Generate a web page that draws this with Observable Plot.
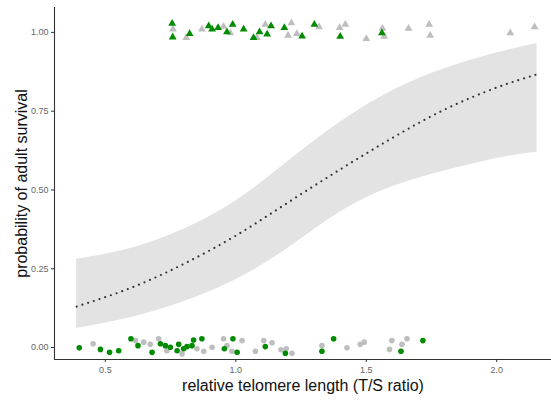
<!DOCTYPE html>
<html>
<head>
<meta charset="utf-8">
<script src="https://cdn.jsdelivr.net/npm/d3@7"></script>
<script src="https://cdn.jsdelivr.net/npm/@observablehq/plot@0.6"></script>
<style>
  html, body { margin: 0; padding: 0; background: #fff; }
  #chart { width: 551px; height: 400px; }
</style>
</head>
<body>
<div id="chart"></div>
<script>
// Survived (y≈1) — green group
const survivedGreen = [
  [0.756,1.028],[0.758,0.985],[0.823,0.996],[0.896,1.020],[0.909,1.010],[0.932,1.015],
  [0.966,1.001],[0.988,1.025],[1.030,1.010],[1.068,0.983],[1.091,1.001],[1.135,1.020],
  [1.120,0.994],[1.186,1.015],[1.254,0.988],[1.301,1.025],[1.400,0.987],[1.560,0.998]
];
// Survived — grey group
const survivedGrey = [
  [0.759,1.010],[0.810,0.983],[0.870,1.010],[0.953,1.019],[0.979,0.998],[1.081,0.983],
  [1.113,1.025],[1.213,1.030],[1.200,0.990],[1.234,0.996],[1.319,1.017],[1.398,1.015],
  [1.420,1.025],[1.500,0.980],[1.562,1.012],[1.569,0.987],[1.662,1.012],[1.741,1.025],
  [1.745,0.990],[2.052,0.998],[2.145,1.017]
];
// Died (y≈0) — green group
const diedGreen = [
  [0.400,-0.001],[0.481,-0.006],[0.516,-0.015],[0.551,-0.010],[0.598,0.028],[0.625,0.006],
  [0.679,-0.015],[0.711,0.012],[0.730,0.006],[0.749,0.001],[0.775,-0.010],[0.781,0.010],
  [0.800,-0.004],[0.813,0.003],[0.838,0.024],[0.832,0.006],[0.870,0.028],[0.989,0.028],
  [0.956,-0.004],[1.005,-0.015],[1.113,0.003],[1.190,-0.018],[1.375,0.028],[1.330,-0.012],
  [1.633,-0.012],[1.717,0.022]
];
// Died — grey group
const diedGrey = [
  [0.453,0.012],[0.615,0.022],[0.647,0.017],[0.672,0.010],[0.704,0.028],[0.736,-0.010],
  [0.794,-0.020],[0.851,-0.004],[0.877,-0.012],[0.909,0.001],[0.953,0.028],[0.966,0.006],
  [0.985,-0.012],[1.024,0.022],[1.075,-0.012],[1.107,0.022],[1.139,0.015],[1.173,-0.007],
  [1.193,-0.004],[1.215,-0.018],[1.330,0.006],[1.426,-0.001],[1.477,0.010],[1.492,0.017],
  [1.598,0.022],[1.589,-0.006],[1.637,0.010],[1.656,0.028]
];
// Fitted curve and confidence band
const fitX  = [0.39, 0.6, 0.8, 1.0, 1.2, 1.4, 1.6, 1.8, 2.0, 2.155];
const fitY  = [0.13, 0.19, 0.265, 0.355, 0.46, 0.565, 0.665, 0.755, 0.825, 0.867];
const fitLo = [0.06, 0.095, 0.145, 0.215, 0.315, 0.43, 0.51, 0.56, 0.60, 0.62];
const fitHi = [0.28, 0.315, 0.375, 0.465, 0.59, 0.715, 0.815, 0.885, 0.935, 0.965];

const xTicks = [0.5, 1.0, 1.5, 2.0];
const yTicks = [0, 0.25, 0.5, 0.75, 1.0];
const xDomain = [0.305, 2.21];
const yDomain = [-0.038, 1.079];

const fit = fitX.map((x, i) => ({x, y: fitY[i], lo: fitLo[i], hi: fitHi[i]}));
const toObj = arr => arr.map(([x, y]) => ({x, y}));

const GREEN = "#008b00", GREY = "#bebebe";

const chart = Plot.plot({
  width: 551,
  height: 400,
  marginLeft: 54,
  marginRight: 0,
  marginTop: 7,
  marginBottom: 41,
  style: {fontFamily: "'Liberation Sans', Arial, sans-serif", background: "#fff"},
  x: {domain: xDomain, axis: null},
  y: {domain: yDomain, axis: null},
  marks: [
    Plot.areaY(fit, {x: "x", y1: "lo", y2: "hi", fill: "#e3e3e3", curve: "natural"}),
    Plot.line(fit, {x: "x", y: "y", stroke: "#333", strokeWidth: 2.2, strokeDasharray: "0,6", strokeLinecap: "round", curve: "natural"}),
    Plot.dot(toObj(survivedGrey), {x: "x", y: "y", symbol: "triangle", r: 2.9, fill: GREY}),
    Plot.dot(toObj(survivedGreen), {x: "x", y: "y", symbol: "triangle", r: 2.9, fill: GREEN}),
    Plot.dot(toObj(diedGrey), {x: "x", y: "y", symbol: "circle", r: 2.8, fill: GREY}),
    Plot.dot(toObj(diedGreen), {x: "x", y: "y", symbol: "circle", r: 2.8, fill: GREEN}),
    Plot.ruleY([yDomain[0]], {stroke: "#333", strokeWidth: 1.1}),
    Plot.ruleX([xDomain[0]], {stroke: "#333", strokeWidth: 1.1}),
    Plot.axisX({ticks: xTicks, tickFormat: d3.format(".1f"), tickSize: 3, tickPadding: 4, fontSize: 9, stroke: "#333", fill: "#666", label: null}),
    Plot.axisY({ticks: yTicks, tickFormat: d3.format(".2f"), tickSize: 3, tickPadding: 3, fontSize: 9, stroke: "#333", fill: "#666", label: null}),
    Plot.text(["relative telomere length (T/S ratio)"], {frameAnchor: "bottom", dy: 31, text: d => d, fontSize: 16, fill: "#111"}),
    Plot.text(["probability of adult survival"], {frameAnchor: "left", dx: -33, rotate: -90, textAnchor: "middle", text: d => d, fontSize: 16, fill: "#111"})
  ]
});
document.getElementById("chart").appendChild(chart);
</script>
</body>
</html>
